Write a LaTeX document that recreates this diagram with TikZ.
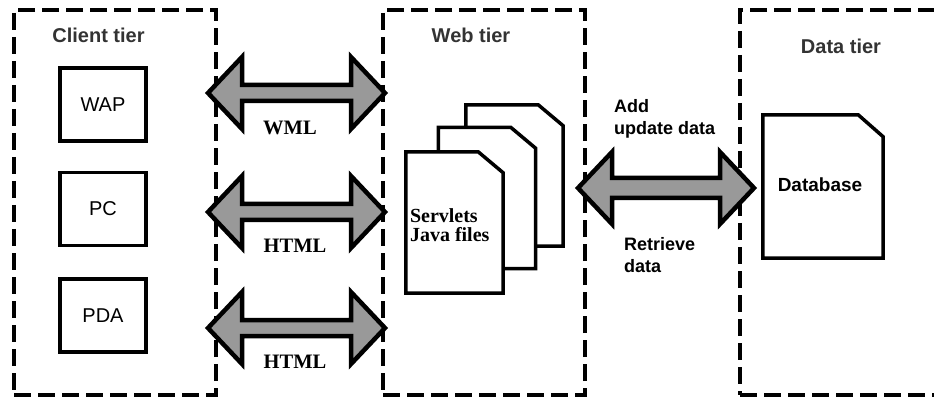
\documentclass[tikz,border=0pt]{standalone}
\usepackage{fontspec}
\setmainfont{Liberation Serif}
\setsansfont{Liberation Sans}
\usetikzlibrary{calc}
\tikzset{
  tier/.style={draw=black, line width=3.5pt, dash pattern=on 17pt off 7pt, inner sep=0pt},
  tiertitle/.style={font=\sffamily\bfseries\fontsize{20}{22}\selectfont, text=black!80, inner sep=0pt},
  device/.style={draw=black, line width=3.5pt, fill=white, minimum width=86, minimum height=73,
    font=\sffamily\fontsize{20}{22}\selectfont, inner sep=0pt},
  pagebox/.style={minimum width=97, minimum height=141, inner sep=0pt},
  pageline/.style={draw=black, line width=3.5pt, fill=white, line join=miter},
  fatarr/.style={draw=black, line width=4.5pt, fill=black!40, line join=miter, miter limit=10},
  serifbold/.style={font=\rmfamily\bfseries\fontsize{20.5}{20}\selectfont, inner sep=0pt},
  sansbold/.style={font=\sffamily\bfseries\fontsize{18}{22}\selectfont, inner sep=0pt, align=left},
}
\newcommand\fatarrow[5]{%
  \draw[fatarr] (#1) -- ++(#3,#4) -- ++(0,#5-#4) -- ($(#2)+(-#3,#5)$) -- ++(0,#4-#5)
    -- (#2) -- ++(-#3,-#4) -- ++(0,#4-#5) -- ($(#1)+(#3,-#5)$) -- ++(0,#5-#4) -- cycle;}
\newcommand\pageoutline[3]{%
  \draw[pageline] (#1.south west) -- (#1.north west) -- ([xshift=-#2pt]#1.north east)
    -- ([yshift=-#3pt]#1.north east) -- (#1.south east) -- cycle;}
\begin{document}
\begin{tikzpicture}[x=1pt,y=-1pt]
\useasboundingbox (0,0) rectangle (934,398);
\fill[white] (0,0) rectangle (934,398);
\clip (0,0) rectangle (934,398);

% tiers
\node[tier, minimum width=202, minimum height=385] (client) at (115,202.5) {};
\node[tier, minimum width=202, minimum height=385] (web) at (484,202.5) {};
\node[tier, minimum width=205, minimum height=385] (data) at (842.5,202.5) {};

\node[tiertitle] (clientt) at (98.5,35) {Client tier};
\node[tiertitle] (webt) at (471,35) {Web tier};
\node[tiertitle] (datat) at (841,46) {Data tier};

% devices
\node[device] (wap) at (103,104.5) {WAP};
\node[device] (pc) at (103,209) {PC};
\node[device] (pda) at (103,315.5) {PDA};

% web pages
\node[pagebox] (pg3) at (514.5,175.5) {};
\node[pagebox] (pg2) at (487,198) {};
\node[pagebox] (pg1) at (454.5,222.5) {};
\pageoutline{pg3}{25}{21}
\pageoutline{pg2}{25}{21}
\pageoutline{pg1}{25}{21}
\node[serifbold, align=left, anchor=west, font=\rmfamily\bfseries\fontsize{20}{19}\selectfont] (servtxt) at ([xshift=4pt,yshift=-3pt]pg1.west) {Servlets\\Java files};

% database
\node[pagebox, minimum width=120, minimum height=143] (db) at (823,186.5) {};
\pageoutline{db}{25}{22}
\node[font=\sffamily\bfseries\fontsize{19}{22}\selectfont, inner sep=0pt] (dbtxt) at (820,185) {Database};

% arrows
\coordinate (a1l) at (208,93);  \coordinate (a1r) at (385,93);
\coordinate (a2l) at (208,212); \coordinate (a2r) at (385,212);
\coordinate (a3l) at (208,328); \coordinate (a3r) at (385,328);
\coordinate (a4l) at (578,188); \coordinate (a4r) at (754,188);
\fatarrow{a1l}{a1r}{34}{36}{8}
\fatarrow{a2l}{a2r}{34}{36}{8}
\fatarrow{a3l}{a3r}{34}{36}{8}
\fatarrow{a4l}{a4r}{34}{36}{10}

\node[serifbold] (wml) at (290,128) {WML};
\node[serifbold] (html1) at (295,246) {HTML};
\node[serifbold] (html2) at (295,362) {HTML};

\node[sansbold, anchor=north west] (add) at (614,99) {Add\\update data};
\node[sansbold, anchor=north west] (ret) at (624,237) {Retrieve\\data};
\end{tikzpicture}
\end{document}
